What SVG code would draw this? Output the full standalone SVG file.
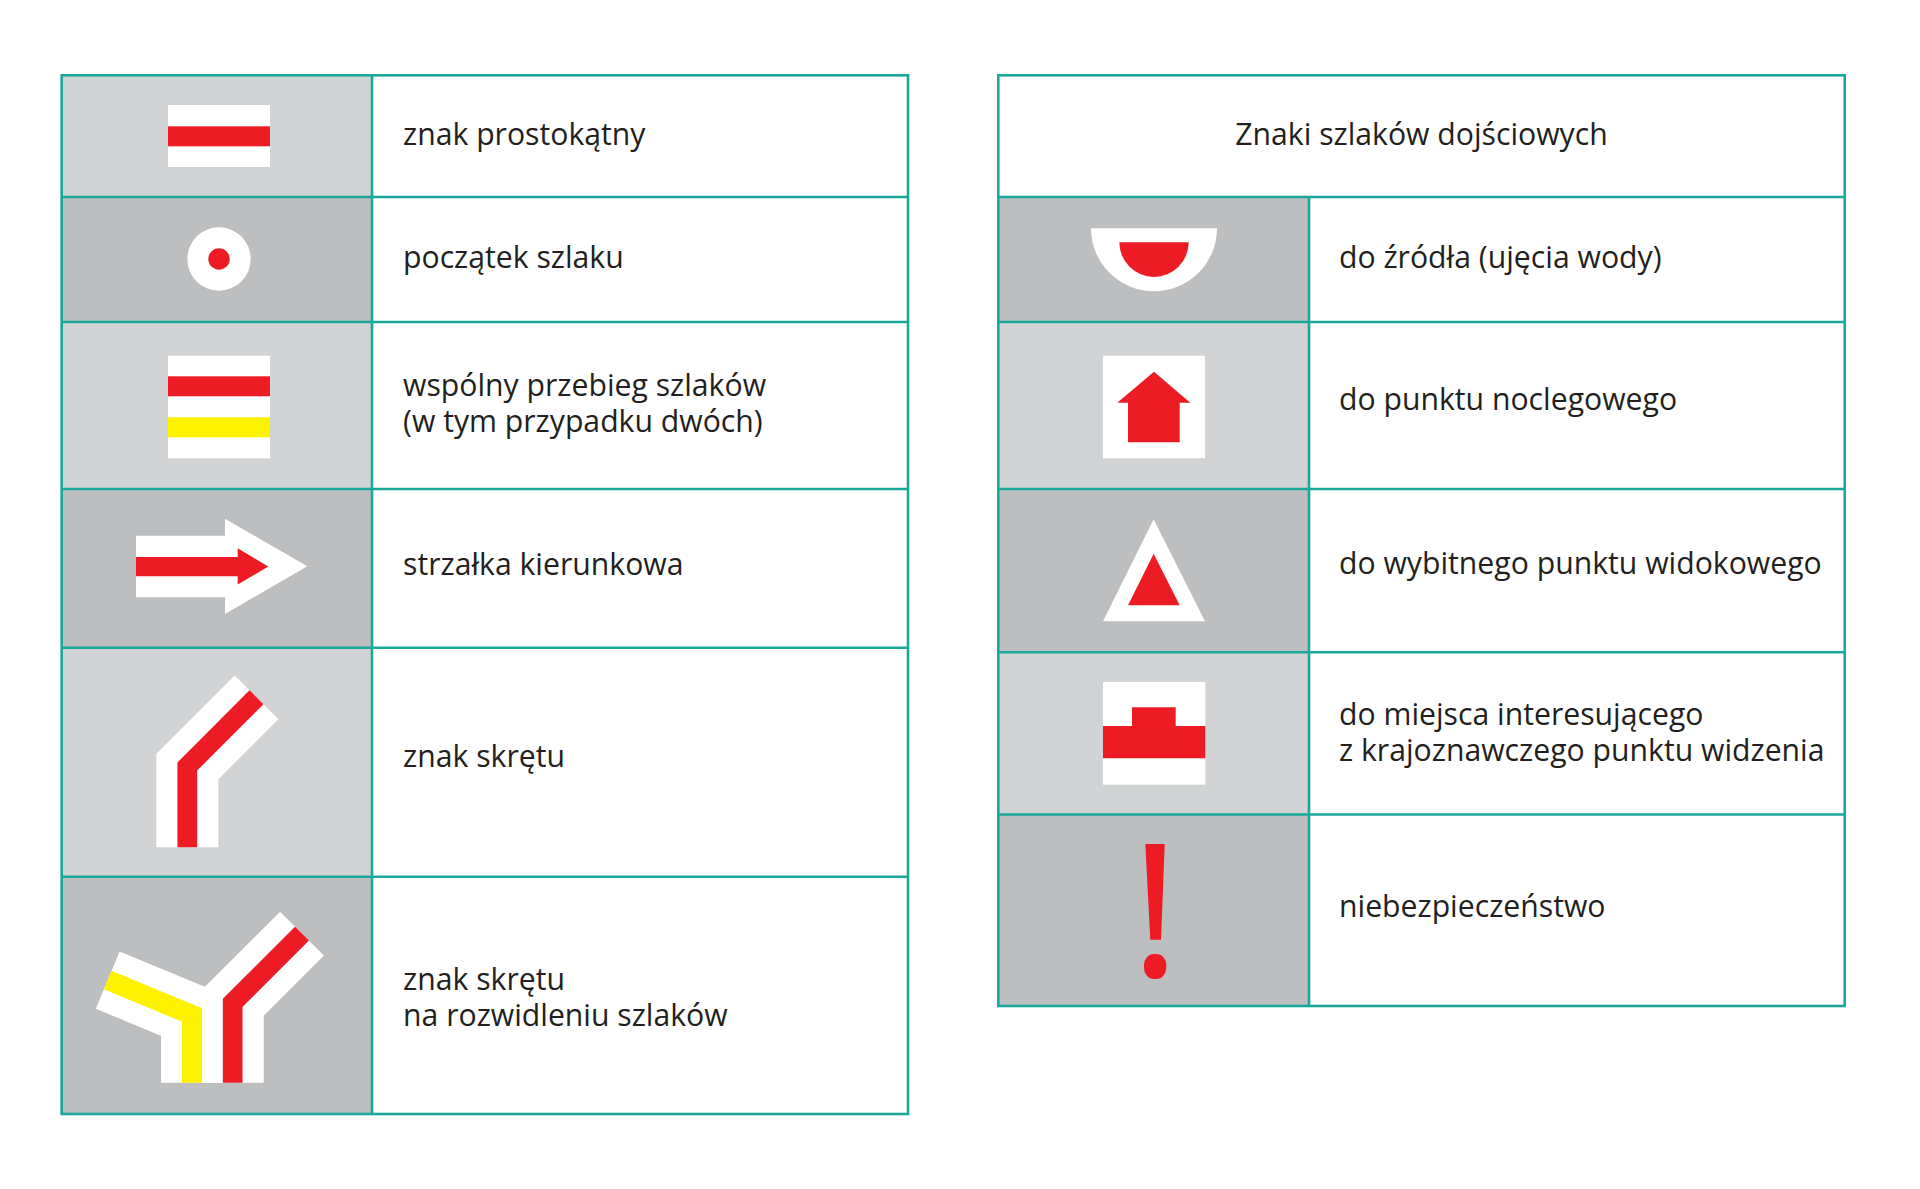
<svg xmlns="http://www.w3.org/2000/svg" width="1920" height="1189" viewBox="0 0 1920 1189">
<style>
.lt{fill:#d1d3d4}
.dk{fill:#bcbec0}
.ln{fill:none;stroke:#1aa89b;stroke-width:2.6}
.tx{font-family:"Open Sans","Noto Sans","Liberation Sans",sans-serif;font-size:30.2px;fill:#231f20}
.w{fill:#ffffff}
.r{fill:#ed1c24}
.y{fill:#fff200}
.sw{fill:none;stroke:#ffffff;stroke-width:62;stroke-linejoin:miter;stroke-linecap:butt}
.sr{fill:none;stroke:#ed1c24;stroke-width:19.7;stroke-linejoin:miter;stroke-linecap:butt}
.sy{fill:none;stroke:#fff200;stroke-width:20;stroke-linejoin:miter;stroke-linecap:butt}
</style>
<rect width="1920" height="1189" fill="#ffffff"/>

<!-- Left table -->
<g id="left-table">
<g id="row-prostokatny">
<rect class="lt" x="61.7" y="75.3" width="310.3" height="121.7"/>
<rect class="w" x="168" y="105" width="102" height="62"/>
<rect class="r" x="168" y="126.3" width="102" height="20"/>
<text class="tx" x="403" y="144.5">znak prostokątny</text>
</g>
<g id="row-poczatek">
<rect class="dk" x="61.7" y="197" width="310.3" height="125"/>
<circle class="w" cx="219" cy="259" r="31.7"/>
<circle class="r" cx="219" cy="259" r="10.7"/>
<text class="tx" x="403" y="267.5">początek szlaku</text>
</g>
<g id="row-wspolny">
<rect class="lt" x="61.7" y="322" width="310.3" height="167"/>
<rect class="w" x="168" y="355.7" width="102" height="102.6"/>
<rect class="r" x="168" y="376.3" width="102" height="20"/>
<rect class="y" x="168" y="417.3" width="102" height="20"/>
<text class="tx" x="403" y="395.5">wspólny przebieg szlaków<tspan x="403" dy="36.5">(w tym przypadku dwóch)</tspan></text>
</g>
<g id="row-strzalka">
<rect class="dk" x="61.7" y="489" width="310.3" height="158.7"/>
<polygon class="w" points="136,535.7 225,535.7 225,518.7 307.3,566.3 225,614 225,597.3 136,597.3"/>
<polygon class="r" points="136,557 237.7,557 237.7,548.3 268.3,566.6 237.7,584.6 237.7,576.3 136,576.3"/>
<text class="tx" x="403" y="574.5">strzałka kierunkowa</text>
</g>
<g id="row-skret">
<rect class="lt" x="61.7" y="647.7" width="310.3" height="229"/>
<polyline class="sw" points="187.3,847.3 187.3,766.5 256.5,697.3"/>
<polyline class="sr" points="187.3,847.3 187.3,766.5 256.5,697.3"/>
<text class="tx" x="403" y="766.5">znak skrętu</text>
</g>
<g id="row-rozwidlenie">
<rect class="dk" x="61.7" y="876.7" width="310.3" height="237.3"/>
<polyline class="sw" points="192,1082.7 192,1015 107.7,980.1"/>
<polyline class="sw" points="232.7,1082.7 232.7,1002.9 302,933.6"/>
<polyline class="sy" points="192,1082.7 192,1015 107.7,980.1"/>
<polyline class="sr" points="232.7,1082.7 232.7,1002.9 302,933.6"/>
<text class="tx" x="403" y="990">znak skrętu<tspan x="403" dy="36">na rozwidleniu szlaków</tspan></text>
</g>
<g id="left-grid">
<rect class="ln" x="61.7" y="75.3" width="846.3" height="1038.7"/>
<line class="ln" x1="372" y1="75.3" x2="372" y2="1114"/>
<line class="ln" x1="61.7" y1="197" x2="908" y2="197"/>
<line class="ln" x1="61.7" y1="322" x2="908" y2="322"/>
<line class="ln" x1="61.7" y1="489" x2="908" y2="489"/>
<line class="ln" x1="61.7" y1="647.7" x2="908" y2="647.7"/>
<line class="ln" x1="61.7" y1="876.7" x2="908" y2="876.7"/>
</g>
</g>

<!-- Right table -->
<g id="right-table">
<g id="header">
<text class="tx" x="1421.5" y="144.5" text-anchor="middle">Znaki szlaków dojściowych</text>
</g>
<g id="row-zrodlo">
<rect class="dk" x="998.3" y="197" width="310.7" height="125"/>
<path class="w" d="M1091,228.3 H1217 A63,63 0 0 1 1091,228.3 Z"/>
<path class="r" d="M1119.3,242.3 H1188.7 A34.7,34.7 0 0 1 1119.3,242.3 Z"/>
<text class="tx" x="1339" y="267.5">do źródła (ujęcia wody)</text>
</g>
<g id="row-nocleg">
<rect class="lt" x="998.3" y="322" width="310.7" height="167"/>
<rect class="w" x="1103" y="355.7" width="102" height="102.6"/>
<polygon class="r" points="1154,371.7 1190.3,402.7 1179.7,402.7 1179.7,442.3 1128,442.3 1128,402.7 1117.3,402.7"/>
<text class="tx" x="1339" y="410">do punktu noclegowego</text>
</g>
<g id="row-widok">
<rect class="dk" x="998.3" y="489" width="310.7" height="163.3"/>
<polygon class="w" points="1153.7,519.3 1205,621.3 1103,621.3"/>
<polygon class="r" points="1153.7,553.7 1179.7,605.3 1128,605.3"/>
<text class="tx" x="1339" y="574">do wybitnego punktu widokowego</text>
</g>
<g id="row-krajoznawcze">
<rect class="lt" x="998.3" y="652.3" width="310.7" height="162.2"/>
<rect class="w" x="1103" y="682" width="102.3" height="102.7"/>
<polygon class="r" points="1103,726 1132,726 1132,707.3 1175.7,707.3 1175.7,726 1205.3,726 1205.3,758.3 1103,758.3"/>
<text class="tx" x="1339" y="725">do miejsca interesującego<tspan x="1339" dy="35.5">z krajoznawczego punktu widzenia</tspan></text>
</g>
<g id="row-niebezpieczenstwo">
<rect class="dk" x="998.3" y="814.5" width="310.7" height="191.5"/>
<polygon class="r" points="1145.3,844 1164.7,844 1161,939.7 1150.3,939.7"/>
<rect class="r" x="1144" y="954" width="22.3" height="25" rx="10" ry="11"/>
<text class="tx" x="1339" y="917">niebezpieczeństwo</text>
</g>
<g id="right-grid">
<rect class="ln" x="998.3" y="75.3" width="846.4" height="930.7"/>
<line class="ln" x1="1309" y1="197" x2="1309" y2="1006"/>
<line class="ln" x1="998.3" y1="197" x2="1844.7" y2="197"/>
<line class="ln" x1="998.3" y1="322" x2="1844.7" y2="322"/>
<line class="ln" x1="998.3" y1="489" x2="1844.7" y2="489"/>
<line class="ln" x1="998.3" y1="652.3" x2="1844.7" y2="652.3"/>
<line class="ln" x1="998.3" y1="814.5" x2="1844.7" y2="814.5"/>
</g>
</g>
</svg>
